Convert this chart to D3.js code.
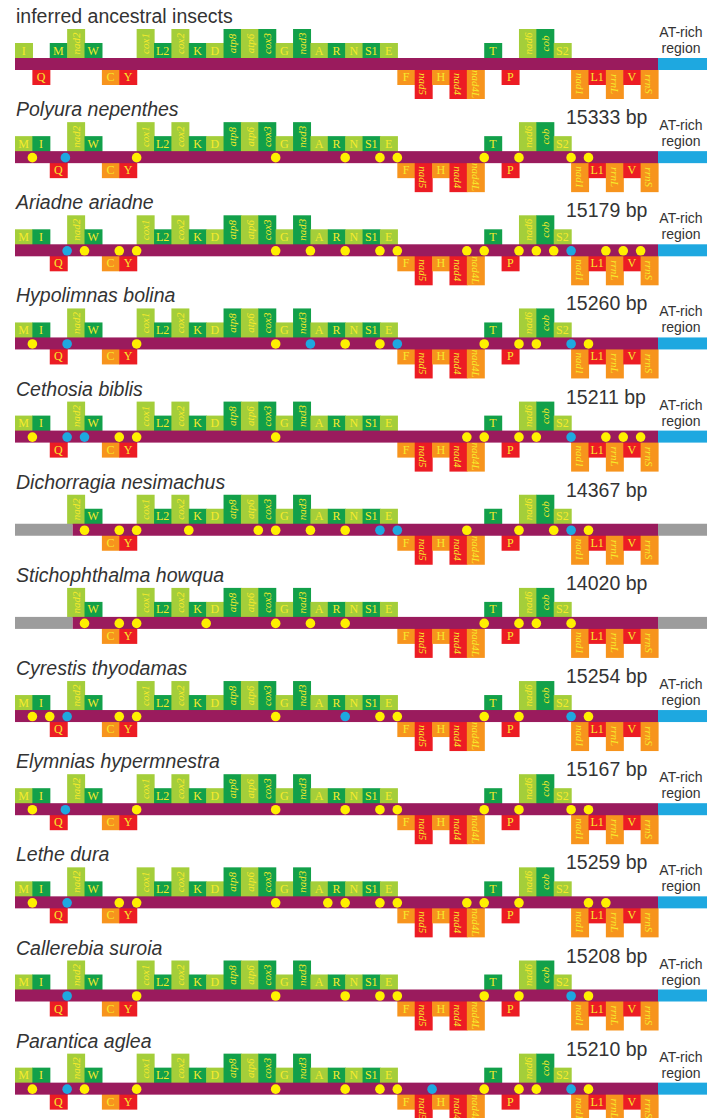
<!DOCTYPE html>
<html><head><meta charset="utf-8">
<script src="https://cdn.jsdelivr.net/npm/d3@7"></script>
<style>body{margin:0;background:#fff}</style>
</head><body><svg id="c" width="713" height="1118"></svg>
<script>
// ---------- DATA ----------
const ancestralOrder = ["I","Q","M","nad2","W","C","Y","cox1","L2","cox2","K","D","atp8","atp6","cox3","G","nad3","A","R","N","S1","E","F","nad5","H","nad4","nad4L","T","P","nad6","cob","S2","nad1","L1","rrnL","V","rrnS"];
const derivedOrder   = ["M","I","Q","nad2","W","C","Y","cox1","L2","cox2","K","D","atp8","atp6","cox3","G","nad3","A","R","N","S1","E","F","nad5","H","nad4","nad4L","T","P","nad6","cob","S2","nad1","L1","rrnL","V","rrnS"];
const minusStrandGenes = ["Q","C","Y","F","nad5","H","nad4","nad4L","P","nad1","L1","rrnL","V","rrnS"];
const longGenes = ["nad2","cox1","cox2","atp8","atp6","cox3","nad3","nad5","nad4","nad4L","nad6","cob","nad1","rrnL","rrnS"];
const controlRegionLength = 2.82;   // in gene-slot units
const unsequencedStart = 3.32;      // end of unsequenced left part (slot units)
const controlRegionLabel = ["AT-rich", "region"];

const speciesNames = ["inferred ancestral insects","Polyura nepenthes","Ariadne ariadne","Hypolimnas bolina","Cethosia biblis","Dichorragia nesimachus","Stichophthalma howqua","Cyrestis thyodamas","Elymnias hypermnestra","Lethe dura","Callerebia suroia","Parantica aglea"];
const genomeSizes = ["","15333 bp","15179 bp","15260 bp","15211 bp","14367 bp","14020 bp","15254 bp","15167 bp","15259 bp","15208 bp","15210 bp"];
const completeGenome = [true,true,true,true,true,false,false,true,true,true,true,true];
const missingGenes = [[],[],[],[],[],["M","I","Q"],["M","I","Q"],[],[],[],[],[]];

// yellow: intergenic spacers, blue: overlaps (positions at gene junctions, slot units)
const spacerDots = [
  [],
  [1,7,15,19,21,22,27,29,32,33],
  [4,6,7,15,17,19,21,22,26,27,29,30,31,34,35,36],
  [1,7,15,19,21,27,29,30,33],
  [1,6,7,15,26,27,29,30,34,35,36],
  [4,6,7,10,14,15,17,19,26,29,31,33],
  [4,6,7,11,15,17,19,27,29,30,32],
  [1,2,6,7,15,21,22,27,29,33],
  [1,7,15,19,21,22,27,29,32,33],
  [1,6,7,15,18,19,21,22,26,27,29,33,34],
  [7,15,19,21,22,27,29,33],
  [1,4,7,15,19,21,22,27,29,30,33]
];
const overlapDots = [
  [],
  [2.9],
  [3,32],
  [3,17,22,32],
  [3,4,32],
  [21,22,32],
  [],
  [3,19,32],
  [2.9],
  [3],
  [3,32],
  [3,24,32]
];

// ---------- DRAW ----------
const svg = d3.select("#c");
const x = d3.scaleLinear().domain([0, 37]).range([15, 658]);
const rowY = d3.scaleLinear().domain([0, 11]).range([58, 58 + 93.15*11]);

const COL = {lg:"#a4ce3a", dg:"#12a04a", red:"#ec1c24", orange:"#f7941d", bar:"#9a1b5d", cr:"#1ea8e0", gray:"#9c9c9c", txt:"#f6eb2c", dotY:"#fff000", dotB:"#1ea8e0"};
const BAR_H = 12;
const SANS = "'Liberation Sans', Arial, sans-serif";

speciesNames.forEach((name, i) => {
  const B = rowY(i);
  const g = svg.append("g");
  const order = (i === 0 ? ancestralOrder : derivedOrder);
  const genes = order.map((n, s) => ({name:n, slot:s}))
    .filter(d => !missingGenes[i].includes(d.name));
  let topIdx = 0;
  genes.forEach(d => {
    d.minus = minusStrandGenes.includes(d.name);
    d.long = longGenes.includes(d.name);
    if (d.minus) {
      d.color = (minusStrandGenes.indexOf(d.name) % 2 === 0) ? COL.red : COL.orange;
    } else {
      d.color = (topIdx % 2 === 0) ? COL.lg : COL.dg; topIdx++;
    }
    const h = d.long ? (d.minus ? 30 : 29) : (d.minus ? 16 : 15);
    d.x0 = x(d.slot); d.x1 = x(d.slot + 1);
    d.y0 = d.minus ? B + 11 : B - h;
    d.h = d.minus ? h : h + 1;
  });

  g.selectAll("rect.gene").data(genes).join("rect")
    .attr("class","gene")
    .attr("x", d => d.x0).attr("width", d => d.x1 - d.x0 + 0.6)
    .attr("y", d => d.y0).attr("height", d => d.h)
    .attr("fill", d => d.color);

  // bar
  const startSlot = missingGenes[i].length ? unsequencedStart : 0;
  if (missingGenes[i].length) {
    g.append("rect").attr("x", x(0)).attr("width", x(startSlot) - x(0))
      .attr("y", B).attr("height", BAR_H).attr("fill", COL.gray);
  }
  g.append("rect").attr("x", x(startSlot)).attr("width", x(37) - x(startSlot))
    .attr("y", B).attr("height", BAR_H).attr("fill", COL.bar);
  g.append("rect").attr("x", x(37)).attr("width", x(37 + controlRegionLength) - x(37))
    .attr("y", B).attr("height", BAR_H).attr("fill", completeGenome[i] ? COL.cr : COL.gray);

  // labels
  g.selectAll("text.gl").data(genes).join("text")
    .attr("class","gl")
    .attr("transform", d => {
      const cx = (d.x0 + d.x1)/2, cy = d.y0 + d.h/2 - (d.minus ? 0 : 0.5);
      return d.long ? `translate(${cx},${cy}) rotate(${d.minus ? 90 : -90})` : `translate(${cx},${cy})`;
    })
    .attr("text-anchor","middle").attr("dominant-baseline","central")
    .attr("font-family","'Liberation Serif', 'DejaVu Serif', serif")
    .attr("font-size", d => d.long ? 11 : 12)
    .attr("font-style", d => d.long ? "italic" : "normal")
    .attr("fill", COL.txt)
    .text(d => d.name);

  // dots
  const dots = spacerDots[i].map(p => ({p, c:COL.dotY})).concat(overlapDots[i].map(p => ({p, c:COL.dotB})));
  g.selectAll("circle").data(dots).join("circle")
    .attr("cx", d => x(d.p)).attr("cy", B + 6.5).attr("r", 4.8).attr("fill", d => d.c);

  // titles
  g.append("text").attr("x", 16).attr("y", B - 35)
    .attr("font-family", SANS).attr("font-size", 19.5)
    .attr("font-style", i === 0 ? "normal" : "italic").attr("fill","#333")
    .text(name);
  if (genomeSizes[i]) {
    g.append("text").attr("x", 566).attr("y", B - 27)
      .attr("font-family", SANS).attr("font-size", 19.5)
      .attr("fill","#333").text(genomeSizes[i]);
  }
  if (completeGenome[i]) {
    g.selectAll("text.cr").data(controlRegionLabel).join("text")
      .attr("class","cr").attr("text-anchor","middle")
      .attr("font-family", SANS).attr("font-size", 14).attr("fill","#333")
      .attr("x", 681).attr("y", (d, k) => B - 21 + k*16).text(d => d);
  }
});
</script></body></html>
